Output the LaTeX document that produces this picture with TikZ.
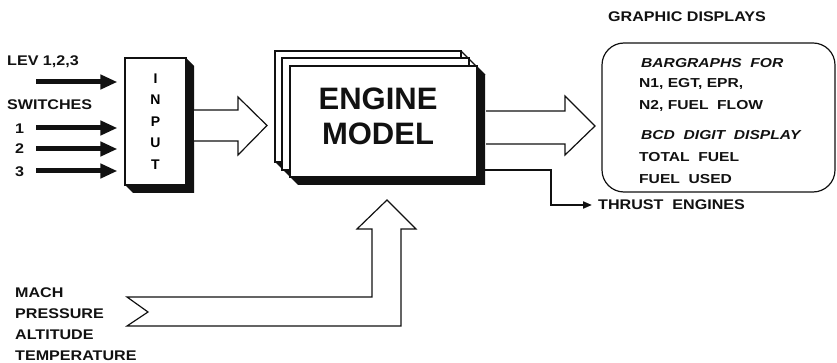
\documentclass[tikz,border=0pt]{standalone}
\usepackage{fontspec}
\usepackage{graphicx}
\setmainfont{Liberation Sans}
\newfontfamily\modelfont{Liberation Sans}
\usetikzlibrary{arrows.meta,positioning}
\definecolor{ink}{HTML}{111111}
\newcommand{\wide}[1]{\scalebox{1.15}[1]{#1}}
\newcommand{\wider}[1]{\scalebox{1.2}[1]{#1}}
\tikzset{
  lbl/.style={font=\fontsize{14}{16}\selectfont\bfseries, inner sep=0pt,
              anchor=base west, text=ink},
  boxlbl/.style={lbl, font=\fontsize{13}{15}\selectfont\bfseries},
  slant/.style={lbl, font=\fontsize{13}{15}\selectfont\bfseries\itshape},
  page/.style={draw=ink, fill=white, line width=1.2pt},
  shade/.style={fill=ink},
  hollow/.style={draw=ink, fill=white, line width=1.2pt, line join=miter},
  dispbox/.style={draw=ink, line width=1.2pt, rounded corners=22pt},
  blk/.style={-{Triangle[length=17pt,width=14pt]}, line width=5pt, draw=ink,
              shorten >=7pt},
  thr/.style={-{Triangle[length=9pt,width=7pt]}, line width=2pt, draw=ink}
}

\begin{document}
\begin{tikzpicture}[x=1pt,y=-1pt]
  \useasboundingbox (0,0) rectangle (837,363);

  % input block
  \fill[shade] (125,185) -- (133,193) -- (194,193) -- (194,66) -- (186,58) -- (186,185) -- cycle;
  \node[page, minimum width=61pt, minimum height=127pt, inner sep=0pt, align=center,
        font=\fontsize{14}{21.5}\selectfont\bfseries] (inp) at (155.5,121.5) {I\\N\\P\\U\\T};

  % left inputs
  \node[lbl] (lev) at (7,66) {\wide{LEV 1,2,3}};
  \node[lbl] (sw) at (7,110) {\wide{SWITCHES}};
  \node[lbl] (n1) at (15,133.5) {\wide{1}};
  \node[lbl] (n2) at (15,154) {\wide{2}};
  \node[lbl] (n3) at (15,176.5) {\wide{3}};
  \coordinate (levs) at (36,82);
  \coordinate (sw1) at (36,128);
  \coordinate (sw2) at (36,149);
  \coordinate (sw3) at (36,171);
  \foreach \c in {levs,sw1,sw2,sw3}
    \draw[blk] (\c) -- (\c -| inp.west);

  % engine model (stacked pages)
  \fill[shade] (275,162) -- (298,185) -- (485,185) -- (485,75) -- (477,67) -- (477,162) -- cycle;
  \draw[page] (275,51) rectangle (461,162);
  \draw[page] (282,58) rectangle (469,170);
  \node[page, minimum width=187pt, minimum height=111pt] (eng) at (383.5,121.5) {};
  \draw[ink, line width=1.2pt] (461,51) -- (485,75);
  \node[font=\modelfont\fontsize{31}{35}\selectfont\bfseries, align=center, text=ink]
    (engtxt) at (378,116.5) {ENGINE\\MODEL};

  % hollow arrows
  \draw[hollow] (194,110) -- (238,110) -- (238,97) -- (267,125.5) -- (238,155) -- (238,141) -- (194,141);
  \draw[hollow] (486,111) -- (565,111) -- (565,96) -- (595,126) -- (565,155) -- (565,144) -- (486,144);
  \draw[hollow] (127,297) -- (372,297) -- (372,229) -- (357,229) -- (387,200) -- (416,229)
    -- (401,229) -- (401,326) -- (127,326) -- (148,312) -- cycle;

  % graphic displays
  \node[lbl] (gd) at (608,22) {\wide{GRAPHIC DISPLAYS}};
  \node[dispbox, minimum width=233pt, minimum height=149pt] (disp) at (718.5,117.5) {};
  \node[slant] (bar) at (641,67.5) {\wider{BARGRAPHS\ \ FOR}};
  \node[boxlbl] (l1) at (639,88) {\wider{N1, EGT, EPR,}};
  \node[boxlbl] (l2) at (639,110) {\wider{N2, FUEL\ \ FLOW}};
  \node[slant] (bcd) at (641,140) {\wider{BCD\ \ DIGIT\ \ DISPLAY}};
  \node[boxlbl] (l3) at (639,162) {\wider{TOTAL\ \ FUEL}};
  \node[boxlbl] (l4) at (639,184) {\wider{FUEL\ \ USED}};

  % thrust output
  \node[lbl, anchor=west, inner sep=6pt] (thrust) at (592,205) {\wide{THRUST\ \ ENGINES}};
  \coordinate (tstart) at (485,170);
  \coordinate (tbend) at (551,170);
  \draw[thr] (tstart) -- (tbend) |- (thrust.west);

  % flight conditions
  \node[lbl] (mach) at (15,297) {\wide{MACH}};
  \node[lbl] (pres) at (15,318) {\wide{PRESSURE}};
  \node[lbl] (alt) at (15,339) {\wide{ALTITUDE}};
  \node[lbl] (temp) at (15,360) {\wide{TEMPERATURE}};
\end{tikzpicture}
\end{document}
